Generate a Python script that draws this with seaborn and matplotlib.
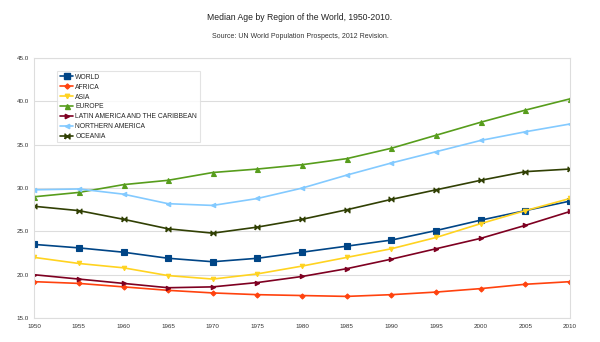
import numpy as np
import pandas as pd
import matplotlib
matplotlib.use("Agg")
import matplotlib.pyplot as plt
import seaborn as sns

years = [1950, 1955, 1960, 1965, 1970, 1975, 1980, 1985, 1990, 1995, 2000, 2005, 2010]
world = [23.5, 23.1, 22.6, 21.9, 21.5, 21.9, 22.6, 23.3, 24.0, 25.1, 26.3, 27.4, 28.5]
africa = [19.2, 19.0, 18.6, 18.2, 17.9, 17.7, 17.6, 17.5, 17.7, 18.0, 18.4, 18.9, 19.2]
asia = [22.0, 21.3, 20.8, 19.9, 19.5, 20.1, 21.0, 22.0, 23.0, 24.3, 25.9, 27.4, 28.8]
europe = [29.0, 29.5, 30.4, 30.9, 31.8, 32.2, 32.7, 33.4, 34.6, 36.1, 37.6, 39.0, 40.3]
latam = [20.0, 19.5, 19.0, 18.5, 18.6, 19.1, 19.8, 20.7, 21.8, 23.0, 24.2, 25.7, 27.3]
namerica = [29.8, 29.9, 29.3, 28.2, 28.0, 28.8, 30.0, 31.5, 32.9, 34.2, 35.5, 36.5, 37.4]
oceania = [27.9, 27.4, 26.4, 25.3, 24.8, 25.5, 26.4, 27.5, 28.7, 29.8, 30.9, 31.9, 32.2]

regions = ["WORLD", "AFRICA", "ASIA", "EUROPE", "LATIN AMERICA AND THE CARIBBEAN",
           "NORTHERN AMERICA", "OCEANIA"]
series = [world, africa, asia, europe, latam, namerica, oceania]
colors = ["#004586", "#ff420e", "#ffd320", "#579d1c", "#7e0021", "#83caff", "#314004"]
bowtie = [(-1, -1), (1, 1), (1, -1), (-1, 1), (-1, -1)]
markers = ["s", "D", "v", "^", ">", "<", bowtie]
msizes = [3.8, 2.6, 3.2, 3.6, 3.2, 3.2, 3.6]

title = "Median Age by Region of the World, 1950-2010."
subtitle = "Source: UN World Population Prospects, 2012 Revision."

rows = []
for r, vals in zip(regions, series):
    for y, v in zip(years, vals):
        rows.append({"Year": y, "Median age": v, "Region": r})
df = pd.DataFrame(rows)

sns.set_style("white")
plt.rcParams['font.family'] = ['Liberation Sans', 'DejaVu Sans']

fig = plt.figure(figsize=(6.0, 3.42), dpi=100)
ax = fig.add_axes([0.057, 0.070, 0.893, 0.760])

sns.lineplot(data=df, x="Year", y="Median age", hue="Region", style="Region",
             hue_order=regions, style_order=regions,
             palette=dict(zip(regions, colors)),
             markers=dict(zip(regions, markers)), dashes=False,
             linewidth=1.2, markeredgewidth=0.8, ax=ax, legend=False)

for line, ms, c in zip(ax.lines, msizes, colors):
    line.set_markersize(ms)
    line.set_markeredgecolor(c)

ax.set_xlim(1950, 2010)
ax.set_ylim(15, 45)
ax.set_xticks(years)
ax.set_xticklabels([str(y) for y in years], fontsize=4.5, color="#333333")
yt = [15, 20, 25, 30, 35, 40, 45]
ax.set_yticks(yt)
ax.set_yticklabels([f"{v:.1f}" for v in yt], fontsize=4.5, color="#333333")
ax.tick_params(axis="both", length=2, width=0.5, color="#b3b3b3", pad=2)
ax.yaxis.grid(True, color="#dddddd", linewidth=0.8)
ax.set_axisbelow(True)
for s in ax.spines.values():
    s.set_color("#dddddd")
    s.set_linewidth(0.8)
ax.set_xlabel("")
ax.set_ylabel("")

from matplotlib.lines import Line2D
handles = [Line2D([0], [0], color=c, marker=m, markersize=ms, markeredgecolor=c,
                  linewidth=1.2) for c, m, ms in zip(colors, markers, msizes)]
leg = ax.legend(handles, regions, loc="upper left", bbox_to_anchor=(0.037, 0.962),
                fontsize=4.9, frameon=True, fancybox=False, handlelength=2.0,
                handletextpad=0.3, labelspacing=0.42, borderpad=0.35)
leg.get_frame().set_edgecolor("#dddddd")
leg.get_frame().set_linewidth(0.8)

fig.text(0.5, 0.95, title, ha="center", va="center", fontsize=6.2, color="#222222")
fig.text(0.5, 0.892, subtitle, ha="center", va="center", fontsize=5.0, color="#333333")

fig.savefig("out.png", dpi=100)
